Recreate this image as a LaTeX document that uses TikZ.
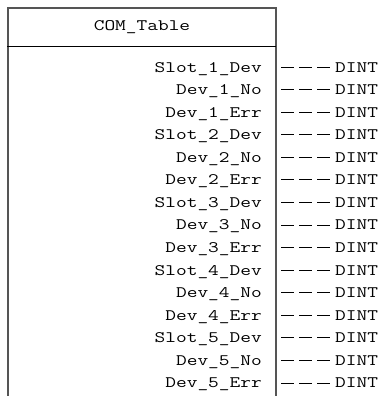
\documentclass[tikz,border=0pt]{standalone}
\usepackage{fontspec}
\newfontfamily\plcfont{Latin Modern Mono}[FakeStretch=1.3]
\definecolor{framegray}{RGB}{85, 85, 85}
\usepackage{tikz}

\tikzset{
  frame/.style={draw=framegray, line width=1.4pt},
  varname/.style={anchor=base east, inner sep=0pt, font=\plcfont\fontsize{16}{18}\selectfont},
  vartype/.style={anchor=base west, inner xsep=2pt, inner ysep=0pt, font=\plcfont\fontsize{16}{18}\selectfont},
  pin/.style={draw=black, line width=1pt, dash pattern=on 13pt off 5pt}
}

\begin{document}
\begin{tikzpicture}[x=1pt, y=-1pt]
  \useasboundingbox (0,0) rectangle (383,396);

  % Block outline, open at the bottom
  \draw[frame] (8,396) -- (8,8) -- (276,8) -- (276,396);
  \draw[black, line width=1pt] (7,47) -- (276,47);

  % Header
  \node[font=\plcfont\fontsize{16}{18}\selectfont, inner sep=0pt] (title) at (142,27) {COM\_Table};

  % Outputs
  \coordinate (rim) at (281,0);
  \foreach \k in {1,...,5}{
    \foreach \part [count=\j] in {Slot\_\k\_Dev, Dev\_\k\_No, Dev\_\k\_Err}{
      \pgfmathsetmacro{\ypos}{72+22.57*(3*\k+\j-4)}
      \node[varname] (var-\k-\j) at (262,\ypos) {\part};
      \node[vartype] (type-\k-\j) at (333,\ypos) {DINT};
      \draw[pin] (type-\k-\j.west -| rim) -- (type-\k-\j.west);
    }
  }
\end{tikzpicture}
\end{document}
